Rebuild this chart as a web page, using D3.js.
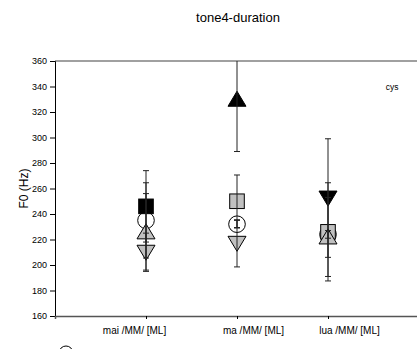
<!DOCTYPE html>
<html><head><meta charset="utf-8">
<script src="https://cdn.jsdelivr.net/npm/d3@7/dist/d3.min.js"></script>
<style>html,body{margin:0;padding:0;background:#fff;overflow:hidden}svg{display:block}</style>
</head><body>
<script>
const categories = ["mai /MM/ [ML]", "ma /MM/ [ML]", "lua /MM/ [ML]"];
const yTicks = [160, 180, 200, 220, 240, 260, 280, 300, 320, 340, 360];

const openCircle      = [235, 232, 224];
const openCircleErr   = [29.5, 3, 3];
const blackSquare     = [246, null, null];
const blackSquareErr  = [28, null, null];
const graySquare      = [null, 250, 226];
const graySquareErr   = [null, 20.6, 38.5];
const grayUp          = [226, null, 222];
const grayUpErr       = [30, null, 31];
const grayDown        = [210, 217, null];
const grayDownErr     = [15, 18.5, null];
const blackUp         = [null, 330, null];
const blackUpErr      = [null, 41, null];
const blackDown       = [null, null, 252.5];
const blackDownErr    = [null, null, 46.5];

// layout: horizontal nudge of each category label (px)
const labelNudge = [-12, 16, 21];

const series = [
  {v: openCircle,  e: openCircleErr,  shape: "circle",   fill: "#ffffff"},
  {v: blackSquare, e: blackSquareErr, shape: "square",   fill: "#000000"},
  {v: graySquare,  e: graySquareErr,  shape: "square",   fill: "#c0c0c0"},
  {v: grayUp,      e: grayUpErr,      shape: "up",       fill: "#c0c0c0"},
  {v: grayDown,    e: grayDownErr,    shape: "down",     fill: "#c0c0c0"},
  {v: blackUp,     e: blackUpErr,     shape: "up",       fill: "#000000"},
  {v: blackDown,   e: blackDownErr,   shape: "down",     fill: "#000000"}
];

const W = 417, H = 349;
const font = "'Liberation Sans', Arial, sans-serif";
const svg = d3.select("body").append("svg").attr("width", W).attr("height", H);

const x = d3.scaleLinear().domain([0, 4]).range([55, 419]);
const y = d3.scaleLinear().domain([160, 360]).range([316, 61]);

svg.append("defs").append("clipPath").attr("id", "clip")
  .append("rect").attr("x", 55).attr("y", 61).attr("width", 364).attr("height", 255);

svg.append("text").attr("x", 238).attr("y", 22).attr("text-anchor", "middle")
  .style("font-family", font).style("font-size", "13px").text("tone4-duration");

svg.append("line").attr("x1", 55).attr("x2", 419).attr("y1", y(360)).attr("y2", y(360))
  .attr("stroke", "#808080").attr("stroke-width", 1.5);

const yAxis = svg.append("g").attr("transform", "translate(55,0)")
  .call(d3.axisLeft(y).tickValues(yTicks).tickSize(5).tickPadding(3).tickFormat(d3.format("d")));
yAxis.select(".domain").attr("stroke", "#000");
yAxis.selectAll("text").style("font-family", font).style("font-size", "9px").attr("fill", "#000");

const xAxis = svg.append("g").attr("transform", "translate(0,316)")
  .call(d3.axisBottom(x).tickValues([1, 2, 3]).tickSize(3).tickPadding(8)
    .tickFormat((d, i) => categories[i]));
xAxis.select(".domain").attr("stroke", "#555").attr("stroke-width", 1.5);
xAxis.selectAll("text").style("font-family", font).style("font-size", "10px").attr("fill", "#000")
  .attr("dx", (d, i) => labelNudge[i]);

svg.append("text").attr("transform", "translate(28," + y(260) + ") rotate(-90)")
  .attr("text-anchor", "middle").style("font-family", font).style("font-size", "12px")
  .text("F0 (Hz)");

svg.append("text").attr("x", 392).attr("y", 90).attr("text-anchor", "middle")
  .style("font-family", font).style("font-size", "8.5px").text("cys");

const plot = svg.append("g").attr("clip-path", "url(#clip)");

function pts(s) {
  return s.v.map((v, i) => ({v, e: s.e[i], i})).filter(d => d.v != null);
}
series.forEach(s => {
  pts(s).forEach(d => {
    const cx = x(d.i + 1), cy = y(d.v);
    let el;
    if (s.shape === "circle") {
      el = plot.append("circle").attr("cx", cx).attr("cy", cy).attr("r", 8.3);
    } else if (s.shape === "square") {
      el = plot.append("rect").attr("x", cx - 7.3).attr("y", cy - 7.3).attr("width", 14.6).attr("height", 14.6);
    } else if (s.shape === "up") {
      el = plot.append("path").attr("d", `M${cx},${cy - 8} L${cx + 9},${cy + 7} L${cx - 9},${cy + 7} Z`);
    } else {
      el = plot.append("path").attr("d", `M${cx},${cy + 8} L${cx + 9},${cy - 7} L${cx - 9},${cy - 7} Z`);
    }
    el.attr("fill", s.fill).attr("stroke", "#000").attr("stroke-width", 1);
  });
});

series.forEach(s => {
  pts(s).forEach(d => {
    const cx = x(d.i + 1);
    const g = plot.append("g").attr("stroke", "#222").attr("stroke-width", 1);
    g.append("line").attr("x1", cx).attr("x2", cx).attr("y1", y(d.v + d.e)).attr("y2", y(d.v - d.e));
    [d.v + d.e, d.v - d.e].forEach(t => {
      g.append("line").attr("x1", cx - 3).attr("x2", cx + 3).attr("y1", y(t)).attr("y2", y(t));
    });
  });
});

svg.append("circle").attr("cx", 66).attr("cy", 353).attr("r", 7)
  .attr("fill", "none").attr("stroke", "#000").attr("stroke-width", 1);
</script>
</body></html>
